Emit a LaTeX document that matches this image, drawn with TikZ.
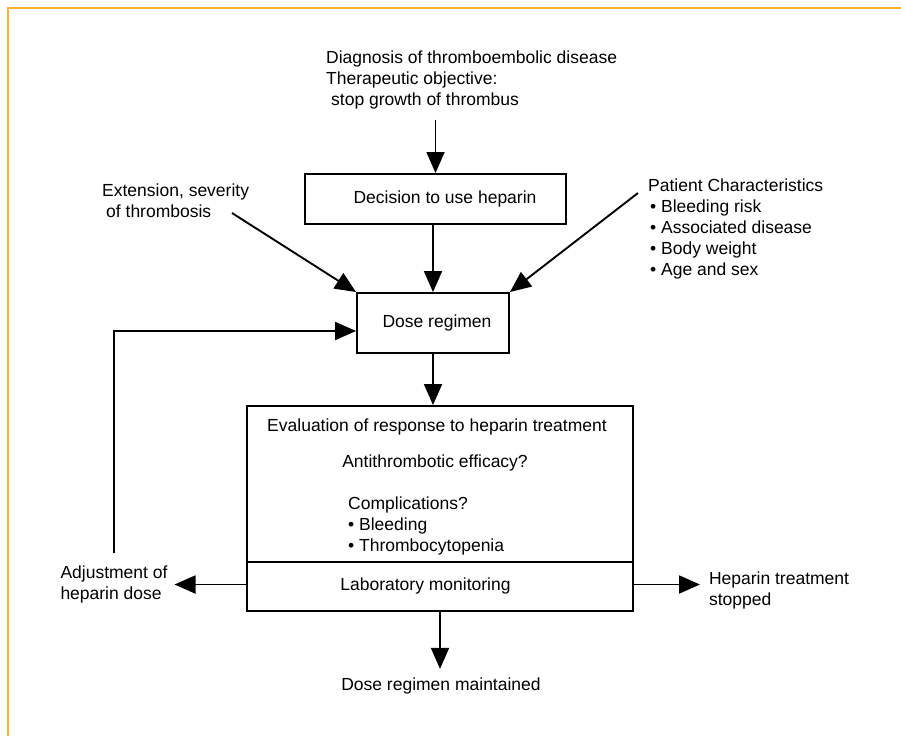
\documentclass[tikz,border=0pt]{standalone}
\usepackage{fontspec}
\setmainfont{Liberation Sans}
\usetikzlibrary{arrows.meta}
\definecolor{frameorange}{RGB}{255,178,46}
\begin{document}
\begin{tikzpicture}[x=1pt,y=-1pt,
  txt/.style={inner sep=0pt, font=\fontsize{17.5}{21}\selectfont, align=left},
  boxnode/.style={draw, line width=1.9pt, inner sep=0pt, font=\fontsize{17.5}{21}\selectfont},
  arr/.style={line width=1.9pt, -{Triangle[length=21pt,width=18pt]}},
]
\useasboundingbox (0,0) rectangle (901,736);
\fill[white] (0,0) rectangle (901,736);
\draw[frameorange, line width=2pt] (8,736) -- (8,8) -- (901,8);

% top text
\node[txt, anchor=north west] (diag) at (326,51)
  {Diagnosis of thromboembolic disease\\Therapeutic objective:\\\hspace*{5pt}stop growth of thrombus};

% decision box
\node[boxnode, minimum width=261pt, minimum height=50pt] (dec) at (435.5,199) {};
\node[txt] (dect) at (445,199) {Decision to use heparin};

% dose regimen
\node[boxnode, minimum width=152pt, minimum height=60pt] (dose) at (433,323) {};
\node[txt] (doset) at (437,323) {Dose regimen};

% side inputs
\node[txt, anchor=north west] (ext) at (102,184)
  {Extension, severity\\\hspace*{4pt}of thrombosis};
\coordinate (extend) at (232,213);
\node[txt, anchor=north west] (pat) at (648,179)
  {Patient Characteristics\\\hspace*{2pt}• Bleeding risk\\\hspace*{2pt}• Associated disease\\\hspace*{2pt}• Body weight\\\hspace*{2pt}• Age and sex};
\coordinate (patend) at (638,193);

% evaluation box
\node[boxnode, minimum width=386pt, minimum height=156pt] (evalbox) at (440,484) {};
\node[boxnode, minimum width=386pt, minimum height=49pt] (labbox) at (440,586.5) {};
\node[txt] (evtitle) at (437,427) {Evaluation of response to heparin treatment};
\node[txt] (effic) at (435,463) {Antithrombotic efficacy?};
\node[txt, anchor=north west] (compl) at (348,497)
  {Complications?\\• Bleeding\\• Thrombocytopenia};
\node[txt] (labt) at (425.5,586) {Laboratory monitoring};

% outcomes
\node[txt, anchor=north, outer xsep=7pt] (adj) at (114,566) {Adjustment of\\heparin dose};
\node[txt, anchor=north west, outer xsep=9pt] (stop) at (700,572) {Heparin treatment\\stopped};
\node[txt, outer ysep=9pt] (maint) at (441,686) {Dose regimen maintained};

% connectors
\draw[arr] ([yshift=-10pt]diag.south -| dec.north) -- (dec.north);
\draw[arr] (dec.south -| dose.north) -- (dose.north);
\draw[arr] (extend) -- (dose.north west);
\draw[arr] (patend) -- (dose.north east);
\draw[arr] (dose.south) -- (dose.south |- evalbox.north);
\draw[arr] ([yshift=13pt]adj.north) |- ([yshift=-8pt]dose.west);
\draw[arr] ([yshift=2pt]labbox.west) -- ([yshift=2pt]labbox.west -| adj.east);
\draw[arr] ([yshift=2pt]labbox.east) -- ([yshift=2pt]labbox.east -| stop.west);
\draw[arr] (labbox.south) -- (labbox.south |- maint.north);
\end{tikzpicture}
\end{document}
